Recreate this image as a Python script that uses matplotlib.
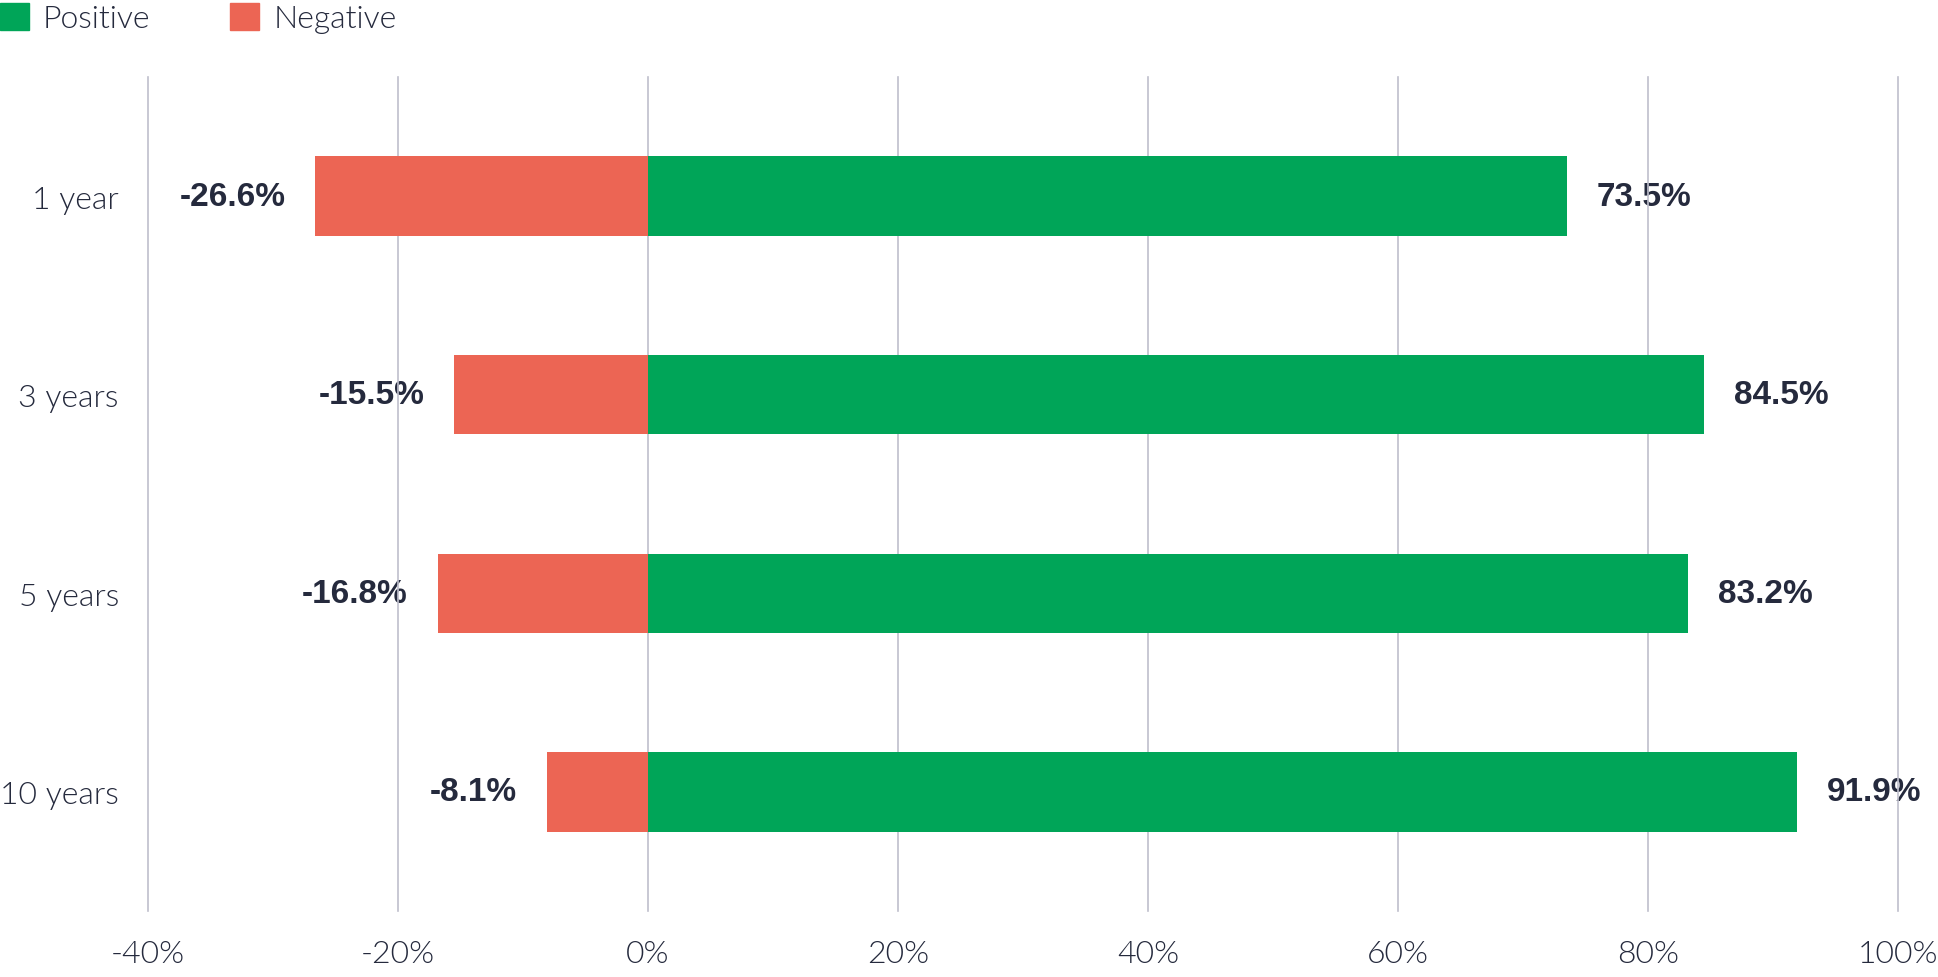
import matplotlib
matplotlib.use("Agg")
import matplotlib.pyplot as plt
from matplotlib.patches import Patch
import numpy as np

categories = ["1 year", "3 years", "5 years", "10 years"]
positive = [73.5, 84.5, 83.2, 91.9]
negative = [-26.6, -15.5, -16.8, -8.1]
xticks = [-40, -20, 0, 20, 40, 60, 80, 100]
xtick_labels = ["-40%", "-20%", "0%", "20%", "40%", "60%", "80%", "100%"]

GREEN = "#00A558"
RED = "#EC6554"
TEXT = "#252A3D"
GRID = "#BFBFCC"
LIGHT = "Lato"
LW = 300

W, H = 1938, 978
fig = plt.figure(figsize=(W / 100, H / 100), dpi=100)
ax = fig.add_axes([148 / W, 1 - 912 / H, (1898 - 148) / W, (912 - 78) / H])

y = np.arange(len(categories))
ax.barh(y, positive, height=0.4, color=GREEN, zorder=1)
ax.barh(y, negative, height=0.4, color=RED, zorder=1)

for yi, p, n in zip(y, positive, negative):
    ax.annotate(f"{p:.1f}%", (p, yi), xytext=(30 * 0.72, 0), textcoords="offset points",
                ha="left", va="center", fontsize=24, fontweight="bold",
                family="Liberation Sans", color=TEXT, zorder=0.4)
    ax.annotate(f"{n:.1f}%", (n, yi), xytext=(-30 * 0.72, 0), textcoords="offset points",
                ha="right", va="center", fontsize=24, fontweight="bold",
                family="Liberation Sans", color=TEXT, zorder=0.4)

ax.set_xlim(-40, 100)
ax.set_ylim(len(categories) - 0.4, -0.6)
ax.set_xticks(xticks)
ax.set_xticklabels(xtick_labels, fontsize=23, family=LIGHT, fontweight=LW, color=TEXT)
ax.set_yticks(y)
ax.set_yticklabels(categories, fontsize=23, family=LIGHT, fontweight=LW, color=TEXT)
ax.tick_params(axis="both", length=0)
ax.tick_params(axis="x", pad=20)
ax.tick_params(axis="y", pad=21)
for s in ax.spines.values():
    s.set_visible(False)
ax.set_axisbelow(True)
ax.grid(axis="x", color=GRID, linewidth=1.2)
for gl in ax.get_xgridlines():
    gl.set_clip_on(False)
ax.grid(axis="y", visible=False)

handles = [Patch(color=GREEN, label="Positive"), Patch(color=RED, label="Negative")]
leg = fig.legend(handles=handles, loc="upper left", bbox_to_anchor=(0, 1 - 4 / H),
                 ncol=2, frameon=False, borderpad=0, borderaxespad=0,
                 handlelength=0.9, handleheight=0.9, handletextpad=0.45,
                 columnspacing=2.5, prop={"family": LIGHT, "weight": LW, "size": 23})
for t in leg.get_texts():
    t.set_color(TEXT)

fig.savefig("out.png", dpi=100)
